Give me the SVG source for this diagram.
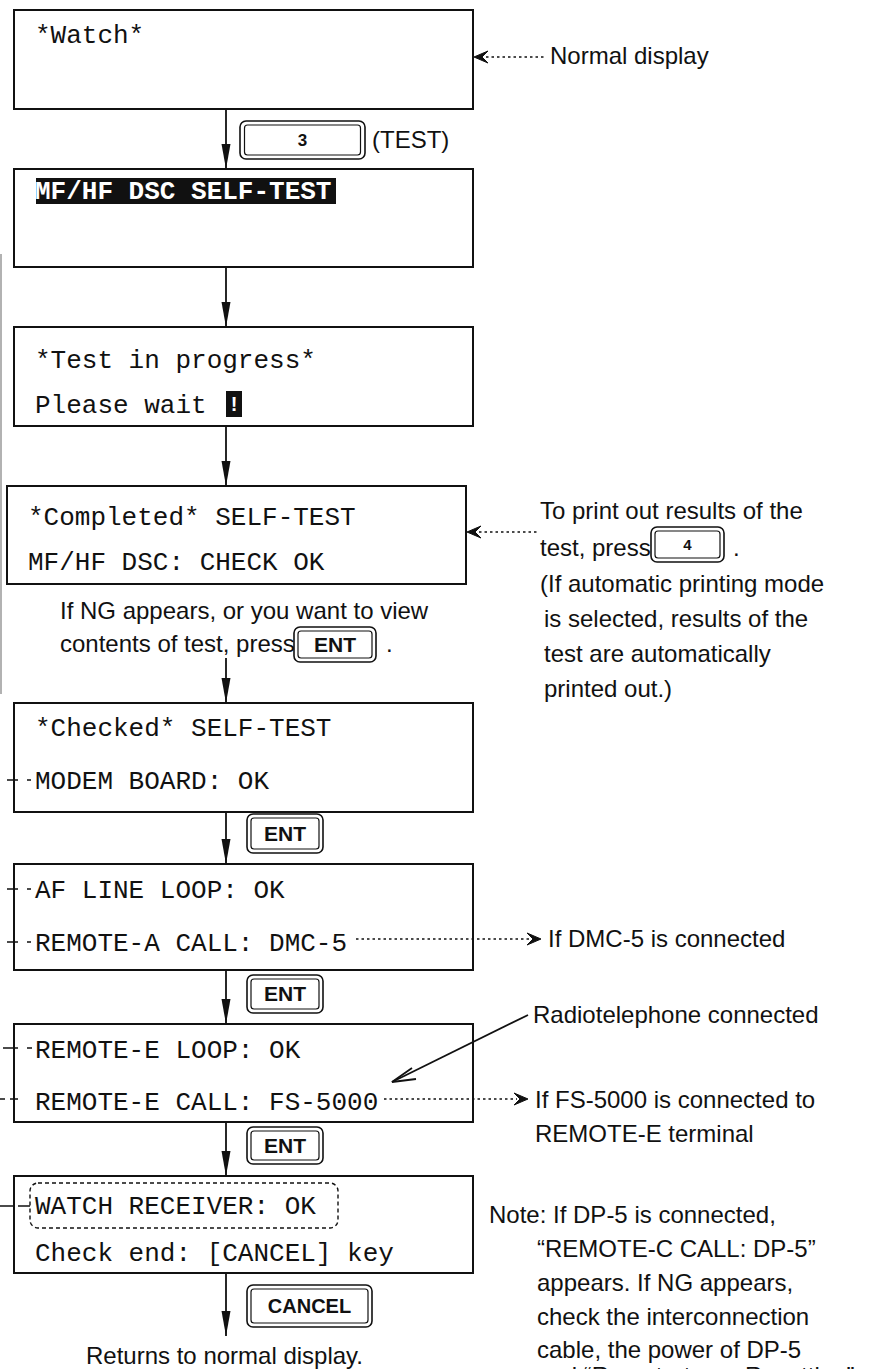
<svg xmlns="http://www.w3.org/2000/svg" width="878" height="1369" viewBox="0 0 878 1369">
<style>
.box{fill:#fff;stroke:#111;stroke-width:2}
.mono{font-family:"Liberation Mono","DejaVu Sans Mono",monospace;font-size:26px;fill:#111}
.sans{font-family:"Liberation Sans",Arial,sans-serif;font-size:24px;fill:#111}
.key{font-family:"Liberation Sans",Arial,sans-serif;font-weight:bold;fill:#111;text-anchor:middle}
.kout{fill:#fff;stroke:#111;stroke-width:1.6}
.kin{fill:none;stroke:#111;stroke-width:1.2}
.conn{stroke:#111;stroke-width:1.8;fill:none}
.dot{stroke:#111;stroke-width:1.4;fill:none;stroke-dasharray:2.5 3}
.tick{stroke:#111;stroke-width:1.6;fill:none}
</style>
<defs>
<marker id="ah" markerUnits="userSpaceOnUse" markerWidth="26" markerHeight="10" refX="25" refY="4.5" orient="auto">
<path d="M0,0 L25,4.5 L0,9 z" fill="#111"/>
</marker>
</defs>
<rect width="878" height="1369" fill="#fff"/>
<line x1="1" y1="254" x2="1" y2="694" stroke="#999" stroke-width="1.5"/>

<g id="n1">
<rect class="box" x="14" y="10" width="459" height="99"/>
<text class="mono" x="35" y="43">*Watch*</text>
</g>
<g id="l1"><text class="sans" x="550" y="64">Normal display</text></g>

<g id="k3">
<rect class="kout" x="240" y="121" width="125" height="38" rx="6"/>
<rect class="kin" x="244.5" y="125" width="116" height="30" rx="3"/>
<text class="key" x="302.5" y="146" font-size="17">3</text>
<text class="sans" x="372" y="148">(TEST)</text>
</g>

<g id="n2">
<rect class="box" x="14" y="169" width="459" height="98"/>
<rect x="36" y="178" width="300" height="26" fill="#111"/>
<text class="mono" x="35" y="199" font-weight="bold" style="fill:#fff">MF/HF DSC SELF-TEST</text>
</g>

<g id="n3">
<rect class="box" x="14" y="327" width="459" height="99"/>
<text class="mono" x="35" y="368">*Test in progress*</text>
<text class="mono" x="35" y="413">Please wait</text>
<rect x="226" y="391" width="16" height="26" fill="#111"/>
<text x="234" y="411" font-family="Liberation Sans,Arial,sans-serif" font-weight="bold" font-size="20" fill="#fff" text-anchor="middle">!</text>
</g>

<g id="n4">
<rect class="box" x="7" y="486" width="459" height="98"/>
<text class="mono" x="28" y="525">*Completed* SELF-TEST</text>
<text class="mono" x="28" y="570">MF/HF DSC: CHECK OK</text>
</g>

<g id="l4">
<text class="sans" x="540" y="519">To print out results of the</text>
<text class="sans" x="540" y="556">test, press</text>
<rect class="kout" x="651" y="527" width="73" height="35" rx="6"/>
<rect class="kin" x="655" y="531" width="65" height="27" rx="3"/>
<text class="key" x="687.5" y="550" font-size="15">4</text>
<text class="sans" x="733" y="556">.</text>
<text class="sans" x="540" y="592">(If automatic printing mode</text>
<text class="sans" x="544" y="627">is selected, results of the</text>
<text class="sans" x="544" y="662">test are automatically</text>
<text class="sans" x="544" y="697">printed out.)</text>
</g>

<g id="l5">
<text class="sans" x="60" y="619">If NG appears, or you want to view</text>
<text class="sans" x="60" y="652">contents of test, press</text>
<rect class="kout" x="294" y="627" width="82" height="35" rx="6"/>
<rect class="kin" x="298" y="631" width="74" height="27" rx="3"/>
<text class="key" x="335" y="652" font-size="21">ENT</text>
<text class="sans" x="386" y="652">.</text>
</g>

<g id="n5">
<rect class="box" x="14" y="703" width="459" height="109"/>
<text class="mono" x="35" y="736">*Checked* SELF-TEST</text>
<text class="mono" x="35" y="789">MODEM BOARD: OK</text>
</g>

<g id="ke1">
<rect class="kout" x="247" y="814" width="76" height="39" rx="6"/>
<rect class="kin" x="251" y="818" width="68" height="31" rx="3"/>
<text class="key" x="285" y="841" font-size="21">ENT</text>
</g>

<g id="n6">
<rect class="box" x="14" y="864" width="459" height="106"/>
<text class="mono" x="35" y="898">AF LINE LOOP: OK</text>
<text class="mono" x="35" y="951">REMOTE-A CALL: DMC-5</text>
</g>
<g id="l6"><text class="sans" x="548" y="947">If DMC-5 is connected</text></g>

<g id="ke2">
<rect class="kout" x="247" y="975" width="76" height="38" rx="6"/>
<rect class="kin" x="251" y="979" width="68" height="30" rx="3"/>
<text class="key" x="285" y="1001" font-size="21">ENT</text>
</g>

<g id="n7">
<rect class="box" x="14" y="1024" width="459" height="98"/>
<text class="mono" x="35" y="1058">REMOTE-E LOOP: OK</text>
<text class="mono" x="35" y="1110">REMOTE-E CALL: FS-5000</text>
</g>
<g id="l7">
<text class="sans" x="533" y="1023">Radiotelephone connected</text>
<text class="sans" x="535" y="1108">If FS-5000 is connected to</text>
<text class="sans" x="535" y="1142">REMOTE-E terminal</text>
</g>

<g id="ke3">
<rect class="kout" x="247" y="1127" width="76" height="37" rx="6"/>
<rect class="kin" x="251" y="1131" width="68" height="29" rx="3"/>
<text class="key" x="285" y="1153" font-size="21">ENT</text>
</g>

<g id="n8">
<rect class="box" x="14" y="1176" width="459" height="97"/>
<rect x="30" y="1183" width="308" height="45" rx="8" fill="none" stroke="#111" stroke-width="1.4" stroke-dasharray="4 3"/>
<text class="mono" x="35" y="1214">WATCH RECEIVER: OK</text>
<text class="mono" x="35" y="1261">Check end: [CANCEL] key</text>
</g>

<g id="kc">
<rect class="kout" x="247" y="1285" width="125" height="42" rx="6"/>
<rect class="kin" x="251" y="1289" width="117" height="34" rx="3"/>
<text class="key" x="309.5" y="1313" font-size="20">CANCEL</text>
</g>
<g id="l8"><text class="sans" x="86" y="1364">Returns to normal display.</text></g>

<g id="note">
<text class="sans" x="489" y="1223">Note: If DP-5 is connected,</text>
<text class="sans" x="537" y="1257">“REMOTE-C CALL: DP-5”</text>
<text class="sans" x="537" y="1291">appears. If NG appears,</text>
<text class="sans" x="537" y="1325">check the interconnection</text>
<text class="sans" x="537" y="1358">cable, the power of DP-5</text>
<text class="sans" x="537" y="1384">and “Remote-term. Resetting”</text>
</g>

<g id="connectors">
<line class="conn" x1="226" y1="109" x2="226" y2="169" marker-end="url(#ah)"/>
<line class="conn" x1="226" y1="267" x2="226" y2="327" marker-end="url(#ah)"/>
<line class="conn" x1="226" y1="426" x2="226" y2="486" marker-end="url(#ah)"/>
<line class="conn" x1="226" y1="658" x2="226" y2="703" marker-end="url(#ah)"/>
<line class="conn" x1="226" y1="812" x2="226" y2="864" marker-end="url(#ah)"/>
<line class="conn" x1="226" y1="970" x2="226" y2="1024" marker-end="url(#ah)"/>
<line class="conn" x1="226" y1="1122" x2="226" y2="1176" marker-end="url(#ah)"/>
<line class="conn" x1="226" y1="1273" x2="226" y2="1336" marker-end="url(#ah)"/>
<line class="dot" x1="486" y1="57" x2="546" y2="57"/>
<path d="M474,57 L488,51 L482,57 L488,63 Z" fill="#111" stroke="#111" stroke-width="1"/>
<line class="dot" x1="479" y1="532" x2="537" y2="532"/>
<path d="M467,532 L481,526 L475,532 L481,538 Z" fill="#111" stroke="#111" stroke-width="1"/>
<line class="dot" x1="356" y1="939" x2="530" y2="939"/>
<path d="M541,939 L527,933 L533,939 L527,945 Z" fill="#111" stroke="#111" stroke-width="1"/>
<line class="dot" x1="384" y1="1099" x2="517" y2="1099"/>
<path d="M528,1099 L514,1093 L520,1099 L514,1105 Z" fill="#111" stroke="#111" stroke-width="1"/>
<line class="conn" x1="528" y1="1015" x2="392" y2="1082"/>
<path class="conn" d="M412,1068 L392,1082 L416,1079"/>
<path class="tick" d="M7,780 H18 M27,780 H31"/>
<path class="tick" d="M7,889 H18 M27,889 H31"/>
<path class="tick" d="M7,942 H18 M27,942 H31"/>
<path class="tick" d="M3,1048 H18 M27,1048 H32"/>
<path class="tick" d="M0,1099 H5 M10,1099 H18"/>
<path class="tick" d="M0,1206 H14 M18,1206 H30"/>
</g>
</svg>
